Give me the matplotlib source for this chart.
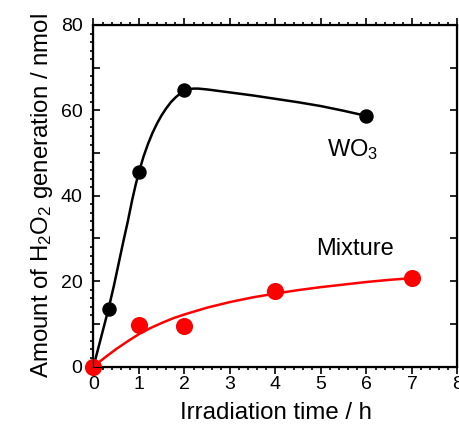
import matplotlib
matplotlib.use("Agg")
import matplotlib.pyplot as plt
from matplotlib.ticker import MultipleLocator, FuncFormatter

plt.rcParams['font.family'] = ['Liberation Sans', 'DejaVu Sans']
plt.rcParams['mathtext.fontset'] = 'custom'
plt.rcParams['mathtext.rm'] = 'Liberation Sans'
plt.rcParams['mathtext.it'] = 'Liberation Sans:italic'

# measured points
wo3_time = [0, 0.33, 1, 2, 6]
wo3_h2o2 = [0, 13.5, 45.6, 64.7, 58.7]
mix_time = [0, 1, 2, 4, 7]
mix_h2o2 = [0, 9.7, 9.6, 17.6, 20.8]

# guide curves
wo3_curve_t = [0, 0.33, 0.45, 0.55, 0.65, 0.75, 0.85, 0.925, 1.0, 1.1, 1.2, 1.3, 1.4,
               1.5, 1.6, 1.7, 1.8, 1.9, 2.0, 2.1, 2.2, 2.3, 2.5, 3, 3.5, 4, 4.5, 5, 5.5, 6]
wo3_curve_y = [0, 13.5, 19.0, 24.0, 29.0, 33.8, 39.0, 42.5, 45.6, 49.2, 52.2, 54.8, 57.0,
               58.9, 60.5, 61.9, 63.0, 63.9, 64.6, 65.0, 65.1, 65.1, 64.9, 64.2, 63.5, 62.7, 61.9, 61.0, 59.9, 58.7]
mix_curve_t = [0, 0.25, 0.5, 0.75, 1, 1.25, 1.5, 1.75, 2, 2.5, 3, 3.5, 4, 4.5, 5, 5.5, 6, 6.5, 7]
mix_curve_y = [0, 2.1, 4.1, 5.9, 7.6, 9.0, 10.2, 11.3, 12.2, 13.8, 15.1, 16.2, 17.1, 17.9, 18.6, 19.2, 19.8, 20.3, 20.7]

fig = plt.figure(figsize=(4.59, 4.25), dpi=100)
ax = fig.add_axes([0.2037, 0.1376, 0.7930, 0.8036])

ax.plot(wo3_curve_t, wo3_curve_y, color='black', lw=1.8, clip_on=False)
ax.plot(mix_curve_t, mix_curve_y, color='#ff0000', lw=1.8, clip_on=False)
ax.plot(wo3_time, wo3_h2o2, 'o', color='black', ms=9.4, clip_on=False, zorder=3)
ax.plot(mix_time, mix_h2o2, 'o', color='#ff0000', ms=11.3, clip_on=False, zorder=4)

ax.text(5.13, 49.4, 'WO$_3$', fontsize=17)
ax.text(4.89, 26.2, 'Mixture', fontsize=17)

ax.set_xlim(0, 8)
ax.set_ylim(0, 80)
ax.xaxis.set_major_locator(MultipleLocator(1))
ax.xaxis.set_minor_locator(MultipleLocator(0.2))
ax.yaxis.set_major_locator(MultipleLocator(10))
ax.yaxis.set_minor_locator(MultipleLocator(2))
ax.yaxis.set_major_formatter(FuncFormatter(lambda v, p: '%d' % v if v % 20 == 0 else ''))

for s in ax.spines.values():
    s.set_linewidth(1.6)

ax.tick_params(axis='x', which='both', direction='out', top=True, labelsize=14, pad=2, width=1.2)
ax.tick_params(axis='x', which='major', length=5)
ax.tick_params(axis='x', which='minor', length=2.5)
ax.tick_params(axis='y', which='major', direction='in', length=5, width=1.2, labelsize=14, pad=8)
ax.tick_params(axis='y', which='minor', direction='out', length=2.5, width=1.2)

# right side: inward major ticks only
ax2 = ax.twinx()
ax2.set_ylim(0, 80)
ax2.yaxis.set_major_locator(MultipleLocator(10))
ax2.tick_params(axis='y', which='major', direction='in', length=5, width=1.2, labelright=False)
ax2.tick_params(axis='y', which='minor', right=False)

ax.set_xlabel('Irradiation time / h', fontsize=17.3, labelpad=6)
ax.set_ylabel('Amount of H$_2$O$_2$ generation / nmol', fontsize=17.3, labelpad=4)

fig.savefig('out.png', dpi=100)
